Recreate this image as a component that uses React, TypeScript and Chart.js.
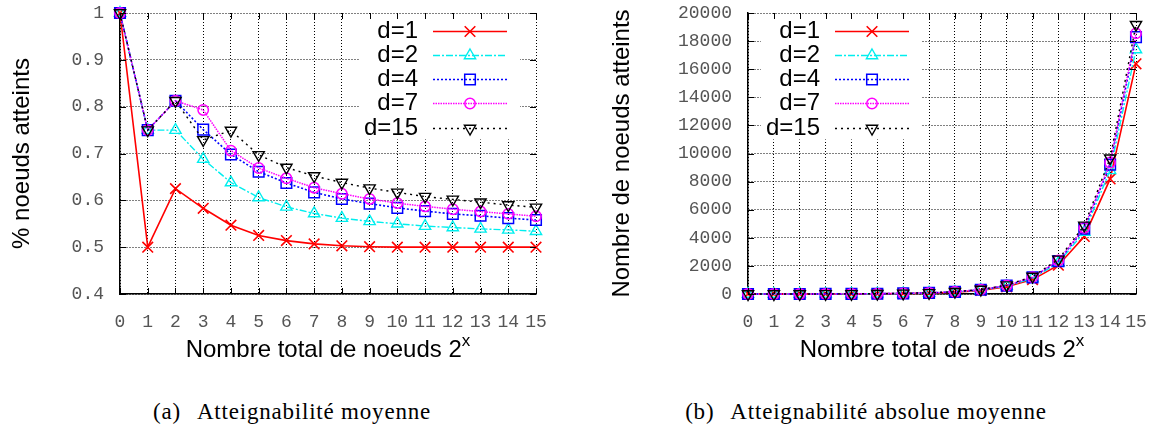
import React, { useEffect, useRef } from 'react';
import { Chart, registerables } from 'chart.js';
import { drawPoint } from 'chart.js/helpers';

Chart.register(...registerables);

// ---------- data ----------
const xLabels = ['0', '1', '2', '3', '4', '5', '6', '7', '8', '9', '10', '11', '12', '13', '14', '15'];
const seriesNames = ['d=1', 'd=2', 'd=4', 'd=7', 'd=15'];

// (a) average reachability (fraction of nodes reached)
const pctD1 = [1, 0.5, 0.625, 0.583, 0.547, 0.525, 0.514, 0.507, 0.503, 0.501, 0.5, 0.5, 0.5, 0.5, 0.5, 0.5];
const pctD2 = [1, 0.75, 0.75, 0.688, 0.638, 0.606, 0.586, 0.572, 0.562, 0.555, 0.55, 0.545, 0.542, 0.539, 0.537, 0.534];
const pctD4 = [1, 0.75, 0.8125, 0.751, 0.698, 0.661, 0.637, 0.617, 0.603, 0.593, 0.584, 0.577, 0.571, 0.567, 0.562, 0.558];
const pctD7 = [1, 0.75, 0.8125, 0.793, 0.706, 0.669, 0.647, 0.627, 0.614, 0.603, 0.594, 0.587, 0.581, 0.576, 0.571, 0.566];
const pctD15 = [1, 0.75, 0.8125, 0.729, 0.749, 0.697, 0.67, 0.652, 0.638, 0.626, 0.617, 0.608, 0.602, 0.596, 0.59, 0.585];

// (b) average absolute reachability (number of nodes reached)
const absD1 = [1, 1, 2.5, 4.7, 8.8, 16.8, 32.9, 64.9, 128.8, 256.5, 512, 1024, 2048, 4096, 8192, 16384];
const absD2 = [1, 1.5, 3, 5.5, 10.2, 19.4, 37.5, 73.2, 143.9, 284.2, 563, 1116, 2220, 4415, 8798, 17400];
const absD4 = [1, 1.5, 3.3, 6, 11.2, 21.2, 40.8, 79, 154.4, 303.6, 598, 1182, 2339, 4645, 9208, 18285];
const absD7 = [1, 1.5, 3.3, 6.3, 11.3, 21.4, 41.4, 80.3, 157.2, 308.7, 608, 1202, 2380, 4719, 9355, 18547];
const absD15 = [1, 1.5, 3.3, 5.8, 12, 22.3, 42.9, 83.5, 163.3, 320.5, 632, 1245, 2466, 4883, 9667, 19169];

const pctTicks = { min: 0.4, max: 1, step: 0.1 };
const absTicks = { min: 0, max: 20000, step: 2000 };

const yTitleLeft = '% noeuds atteints';
const yTitleRight = 'Nombre de noeuds atteints';
const xTitle = 'Nombre total de noeuds 2';
const captionA = 'Atteignabilité moyenne';
const captionB = 'Atteignabilité absolue moyenne';

// ---------- styles ----------
const SANS = '"Liberation Sans", Arial, sans-serif';
const MONO = '"Liberation Mono", "Courier New", monospace';
const SERIF = '"Liberation Serif", "Times New Roman", serif';

const seriesStyles = [
  { color: '#ff0000', dash: [] as number[], pointStyle: 'crossRot', radius: 7.5, rotation: 0, width: 1.6, pw: 1.6 },
  { color: '#00eeee', dash: [7, 2, 2, 2], pointStyle: 'triangle', radius: 6.5, rotation: 0, width: 1.4, pw: 1.4 },
  { color: '#0000ff', dash: [2, 2], pointStyle: 'rect', radius: 7.5, rotation: 0, width: 1.6, pw: 1.5 },
  { color: '#ff00ff', dash: [1.5, 1], pointStyle: 'circle', radius: 5.2, rotation: 0, width: 1.5, pw: 1.5 },
  { color: '#000000', dash: [2, 4], pointStyle: 'triangle', radius: 6.5, rotation: 180, width: 1.4, pw: 1.4 },
];

function buildDatasets(series: number[][]) {
  return series.map((values, i) => {
    const s = seriesStyles[i];
    return {
      label: seriesNames[i],
      data: values,
      borderColor: s.color,
      backgroundColor: 'rgba(0,0,0,0)',
      borderWidth: s.width,
      borderDash: s.dash,
      pointStyle: s.pointStyle,
      pointRadius: s.radius,
      pointRotation: s.rotation,
      pointBorderColor: s.color,
      pointBackgroundColor: 'rgba(0,0,0,0)',
      pointBorderWidth: s.pw,
      tension: 0,
      fill: false,
      clip: false as any,
      order: series.length - i,
    };
  });
}

// gnuplot-like key (text left of a line sample) + inward mirror tics
const gnuDecor = {
  id: 'gnuDecor',
  afterDatasetsDraw(chart: any, _args: any, opts: any) {
    const { ctx, chartArea } = chart;
    const textRight = chartArea.left + opts.textRight;
    ctx.save();
    ctx.font = `24px ${SANS}`;
    const names: string[] = chart.data.datasets.map((d: any) => d.label);
    const maxW = Math.max(...names.map((n) => ctx.measureText(n).width));
    const boxL = textRight - maxW - 5;
    const boxR = textRight + opts.lineGap + opts.lineLen + 13;
    ctx.fillStyle = '#ffffff';
    ctx.fillRect(boxL, chartArea.top + 1.5, boxR - boxL, opts.boxHeight);
    chart.data.datasets.forEach((ds: any, i: number) => {
      const y = Math.round(chartArea.top + opts.firstRow + i * opts.rowGap) + 0.5;
      ctx.fillStyle = '#000';
      ctx.textAlign = 'right';
      ctx.textBaseline = 'middle';
      ctx.fillText(ds.label, textRight, y);
      const x0 = textRight + opts.lineGap;
      const x1 = x0 + opts.lineLen;
      ctx.save();
      ctx.strokeStyle = ds.borderColor;
      ctx.lineWidth = ds.borderWidth;
      ctx.setLineDash(ds.borderDash || []);
      ctx.beginPath();
      ctx.moveTo(x0, y);
      ctx.lineTo(x1, y);
      ctx.stroke();
      ctx.restore();
      ctx.save();
      ctx.strokeStyle = ds.pointBorderColor;
      ctx.fillStyle = 'rgba(0,0,0,0)';
      ctx.lineWidth = ds.pointBorderWidth;
      drawPoint(ctx, {
        pointStyle: ds.pointStyle,
        rotation: ds.pointRotation,
        radius: ds.pointRadius,
        borderWidth: ds.pointBorderWidth,
      } as any, (x0 + x1) / 2, y);
      ctx.restore();
    });
    // inward tics on all four sides
    const xs = chart.scales.x;
    const ys = chart.scales.y;
    const L = 6;
    ctx.strokeStyle = '#000';
    ctx.lineWidth = 1;
    ctx.setLineDash([]);
    ctx.beginPath();
    xs.ticks.forEach((_t: any, i: number) => {
      const px = Math.round(xs.getPixelForTick(i)) + 0.5;
      ctx.moveTo(px, chartArea.top);
      ctx.lineTo(px, chartArea.top + L);
      ctx.moveTo(px, chartArea.bottom);
      ctx.lineTo(px, chartArea.bottom - L);
    });
    ys.ticks.forEach((_t: any, i: number) => {
      const py = Math.round(ys.getPixelForTick(i)) + 0.5;
      ctx.moveTo(chartArea.left, py);
      ctx.lineTo(chartArea.left + L, py);
      ctx.moveTo(chartArea.right, py);
      ctx.lineTo(chartArea.right - L, py);
    });
    ctx.stroke();
    ctx.restore();
  },
};

function makeConfig(
  series: number[][],
  yr: { min: number; max: number; step: number },
  yTitle: string,
  yAxisWidth: number,
  rightPad: number,
  titlePad: number,
  legendTextRight: number,
  fmt: (v: number) => string,
) {
  return {
    type: 'line' as const,
    data: { labels: xLabels, datasets: buildDatasets(series) },
    plugins: [gnuDecor],
    options: {
      responsive: false,
      animation: false as const,
      events: [] as any[],
      layout: { padding: { left: 0, top: 13, right: rightPad, bottom: 0 } },
      plugins: {
        legend: { display: false },
        tooltip: { enabled: false },
        gnuDecor: { textRight: legendTextRight, firstRow: 17.7, rowGap: 24.2, lineGap: 15, lineLen: 74, boxHeight: 125 },
      },
      scales: {
        x: {
          type: 'category' as const,
          offset: false,
          grid: { color: '#000', lineWidth: 1, drawTicks: false },
          border: { display: true, color: '#000', width: 1.5, dash: [1, 2] },
          ticks: {
            autoSkip: false,
            maxRotation: 0,
            padding: 17,
            color: '#555',
            font: { family: MONO, size: 18 },
          },
          afterFit: (scale: any) => {
            scale.height = 46;
            scale.paddingLeft = 0;
            scale.paddingRight = 0;
          },
        },
        y: {
          type: 'linear' as const,
          min: yr.min,
          max: yr.max,
          grid: { color: '#000', lineWidth: 1, drawTicks: false },
          border: { display: true, color: '#000', width: 1.5, dash: [1, 2] },
          ticks: {
            stepSize: yr.step,
            padding: 16,
            color: '#555',
            font: { family: MONO, size: 18 },
            callback: (v: any) => fmt(Number(v)),
          },
          title: {
            display: true,
            text: yTitle,
            color: '#000',
            font: { family: SANS, size: 24 },
            padding: { top: titlePad, bottom: 0 },
          },
          afterFit: (scale: any) => {
            scale.width = yAxisWidth;
            scale.paddingTop = 0;
            scale.paddingBottom = 0;
          },
        },
      },
    },
  };
}

const xTitleStyle = (left: number, width: number): React.CSSProperties => ({
  position: 'absolute',
  left,
  width,
  top: 335,
  textAlign: 'center',
  font: `24px ${SANS}`,
  lineHeight: '28px',
  color: '#000',
  whiteSpace: 'nowrap',
});

const captionStyle = (center: number): React.CSSProperties => ({
  position: 'absolute',
  left: center - 250,
  width: 500,
  top: 398,
  textAlign: 'center',
  font: `23px ${SERIF}`,
  letterSpacing: '0.8px',
  lineHeight: '28px',
  color: '#000',
  whiteSpace: 'nowrap',
});

const supStyle: React.CSSProperties = { fontSize: 17, verticalAlign: 11, lineHeight: 0 };
const gapStyle: React.CSSProperties = { display: 'inline-block', width: 16 };

export default function App() {
  const leftRef = useRef<HTMLCanvasElement>(null);
  const rightRef = useRef<HTMLCanvasElement>(null);

  useEffect(() => {
    const c1 = new Chart(
      leftRef.current as HTMLCanvasElement,
      makeConfig([pctD1, pctD2, pctD4, pctD7, pctD15], pctTicks, yTitleLeft, 120, 44, 7.6, 298,
        (v) => String(Number(v.toFixed(1)))) as any,
    );
    const c2 = new Chart(
      rightRef.current as HTMLCanvasElement,
      makeConfig([absD1, absD2, absD4, absD7, absD15], absTicks, yTitleRight, 168, 23, 28, 72,
        (v) => String(Math.round(v))) as any,
    );
    return () => {
      c1.destroy();
      c2.destroy();
    };
  }, []);

  return (
    <div style={{ position: 'absolute', left: 0, top: 0, width: 1159, height: 434, background: '#fff', overflow: 'hidden' }}>
      <canvas ref={leftRef} width={580} height={340} style={{ position: 'absolute', left: 0, top: 0 }} />
      <canvas ref={rightRef} width={579} height={340} style={{ position: 'absolute', left: 580, top: 0 }} />
      <div style={xTitleStyle(120, 416)}>
        {xTitle}
        <span style={supStyle}>x</span>
      </div>
      <div style={xTitleStyle(748, 388)}>
        {xTitle}
        <span style={supStyle}>x</span>
      </div>
      <div style={captionStyle(292)}>
        (a)<span style={gapStyle} />{captionA}
      </div>
      <div style={captionStyle(866)}>
        (b)<span style={gapStyle} />{captionB}
      </div>
    </div>
  );
}
